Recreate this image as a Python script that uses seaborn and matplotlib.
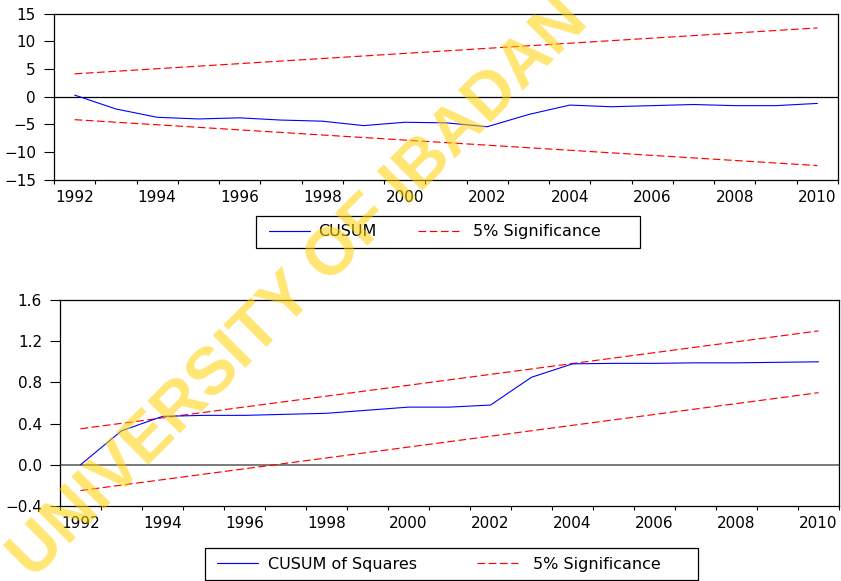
import numpy as np
import pandas as pd
import matplotlib
matplotlib.use("Agg")
import matplotlib.pyplot as plt
import seaborn as sns
from matplotlib.patches import Rectangle
from matplotlib.lines import Line2D

# ---------------- data ----------------
years = list(range(1992, 2011))
cusum = [0.3, -2.2, -3.7, -4.0, -3.8, -4.2, -4.4, -5.2, -4.6, -4.7, -5.4,
         -3.2, -1.5, -1.8, -1.6, -1.4, -1.6, -1.6, -1.2]
cusum_band_years = [1992, 2010]
cusum_upper = [4.13, 12.4]
cusum_lower = [-4.13, -12.4]

cusumsq = [0.0, 0.33, 0.47, 0.48, 0.48, 0.49, 0.50, 0.53, 0.56, 0.56, 0.58,
           0.85, 0.98, 0.985, 0.985, 0.99, 0.99, 0.995, 1.0]
sq_upper = [0.35, 1.30]
sq_lower = [-0.25, 0.70]

xtick_years = [1992, 1994, 1996, 1998, 2000, 2002, 2004, 2006, 2008, 2010]
cusum_yticks = [-15, -10, -5, 0, 5, 10, 15]
sq_yticks = [-0.4, 0.0, 0.4, 0.8, 1.2, 1.6]

legend_top = ["CUSUM", "5% Significance"]
legend_bottom = ["CUSUM of Squares", "5% Significance"]
watermark = "UNIVERSITY OF IBADAN"

# ---------------- style ----------------
sns.set_style("white")
plt.rcParams["font.family"] = ["DejaVu Sans"]
plt.rcParams["axes.unicode_minus"] = True
plt.rcParams["text.color"] = "black"
plt.rcParams["xtick.color"] = "black"
plt.rcParams["ytick.color"] = "black"
plt.rcParams["xtick.labelcolor"] = "black"
plt.rcParams["ytick.labelcolor"] = "black"
plt.rcParams["legend.labelcolor"] = "black"

W, H = 841, 581
fig = plt.figure(figsize=(W / 100, H / 100), dpi=100)

def px_axes(l, t, r, b):
    return fig.add_axes([l / W, 1 - b / H, (r - l) / W, (b - t) / H])

ax1 = px_axes(54, 13.5, 838, 180)
ax2 = px_axes(60, 300, 839, 506)

blue = "#0000ff"
red = "#ff0000"
dash = (6.5, 3)
TICK_FS = 11

def style_axes(ax, yticks, fmt):
    ax.set_xlim(1991.5, 2010.5)
    ax.set_ylim(yticks[0], yticks[-1])
    ax.set_xticks(xtick_years)
    ax.set_xticklabels([str(y) for y in xtick_years])
    ax.set_xticks(np.arange(1991.5, 2011.0, 1.0), minor=True)
    ax.tick_params(axis="x", which="major", length=0, pad=7.5, labelsize=TICK_FS,
                   labelcolor="black")
    ax.tick_params(axis="x", which="minor", length=3, width=0.8, direction="out",
                   bottom=True, color="black")
    ax.set_yticks(yticks)
    ax.set_yticklabels([fmt(v) for v in yticks])
    ax.tick_params(axis="y", which="major", length=7.5, width=0.8, direction="out",
                   left=True, pad=5.5, labelsize=TICK_FS, color="black",
                   labelcolor="black")
    for s in ax.spines.values():
        s.set_color("black")
        s.set_linewidth(0.9)
    ax.set_xlabel("")
    ax.set_ylabel("")
    ax.set_facecolor("none")

def band(ax, xs, ys):
    sns.lineplot(x=xs, y=ys, ax=ax, color=red, lw=0.85, zorder=2)
    ax.lines[-1].set_dashes(dash)

# top panel
df1 = pd.DataFrame({"year": years, "CUSUM": cusum})
ax1.axhline(0, color="black", lw=0.9, zorder=1)
sns.lineplot(data=df1, x="year", y="CUSUM", ax=ax1, color=blue, lw=0.8, zorder=3)
band(ax1, cusum_band_years, cusum_upper)
band(ax1, cusum_band_years, cusum_lower)
style_axes(ax1, cusum_yticks, lambda v: f"{v:d}".replace("-", "\u2212"))

# bottom panel
df2 = pd.DataFrame({"year": years, "CUSUMSQ": cusumsq})
ax2.axhline(0, color="#6e6e6e", lw=1.3, zorder=1)
sns.lineplot(data=df2, x="year", y="CUSUMSQ", ax=ax2, color=blue, lw=0.8, zorder=3)
band(ax2, cusum_band_years, sq_upper)
band(ax2, cusum_band_years, sq_lower)
style_axes(ax2, sq_yticks, lambda v: f"{v:.1f}".replace("-", "\u2212"))

# ---------------- legends ----------------
LEG_FS = 11.5

def legend_box(l, t, r, b):
    fig.patches.append(Rectangle((l / W, 1 - b / H), (r - l) / W, (b - t) / H,
                                 transform=fig.transFigure, fill=False,
                                 edgecolor="black", lw=0.9))

def legend_entry(x_px, y_px, label, color, dashed, gap):
    h = Line2D([], [], color=color, lw=0.85)
    if dashed:
        h.set_dashes(dash)
    fig.legend([h], [label], loc="center left", bbox_to_anchor=(x_px / W, 1 - y_px / H),
               frameon=False, borderpad=0, borderaxespad=0,
               handlelength=41 / (LEG_FS * 100 / 72), handletextpad=gap,
               fontsize=LEG_FS, labelcolor="black")

legend_box(256, 216, 640, 248)
legend_entry(269, 232, legend_top[0], blue, False, 0.5)
legend_entry(418, 232, legend_top[1], red, True, 0.9)

legend_box(205, 548, 698, 580)
legend_entry(217, 564, legend_bottom[0], blue, False, 0.65)
legend_entry(477, 564, legend_bottom[1], red, True, 0.95)

# ---------------- watermark ----------------
fig.text(300 / W, 1 - 290 / H, watermark, rotation=45, rotation_mode="anchor",
         ha="center", va="center", fontsize=48, fontweight="bold",
         family=["Liberation Sans", "DejaVu Sans"], color="#FFD200", alpha=0.55,
         zorder=20)

fig.savefig("out.png", dpi=100)
